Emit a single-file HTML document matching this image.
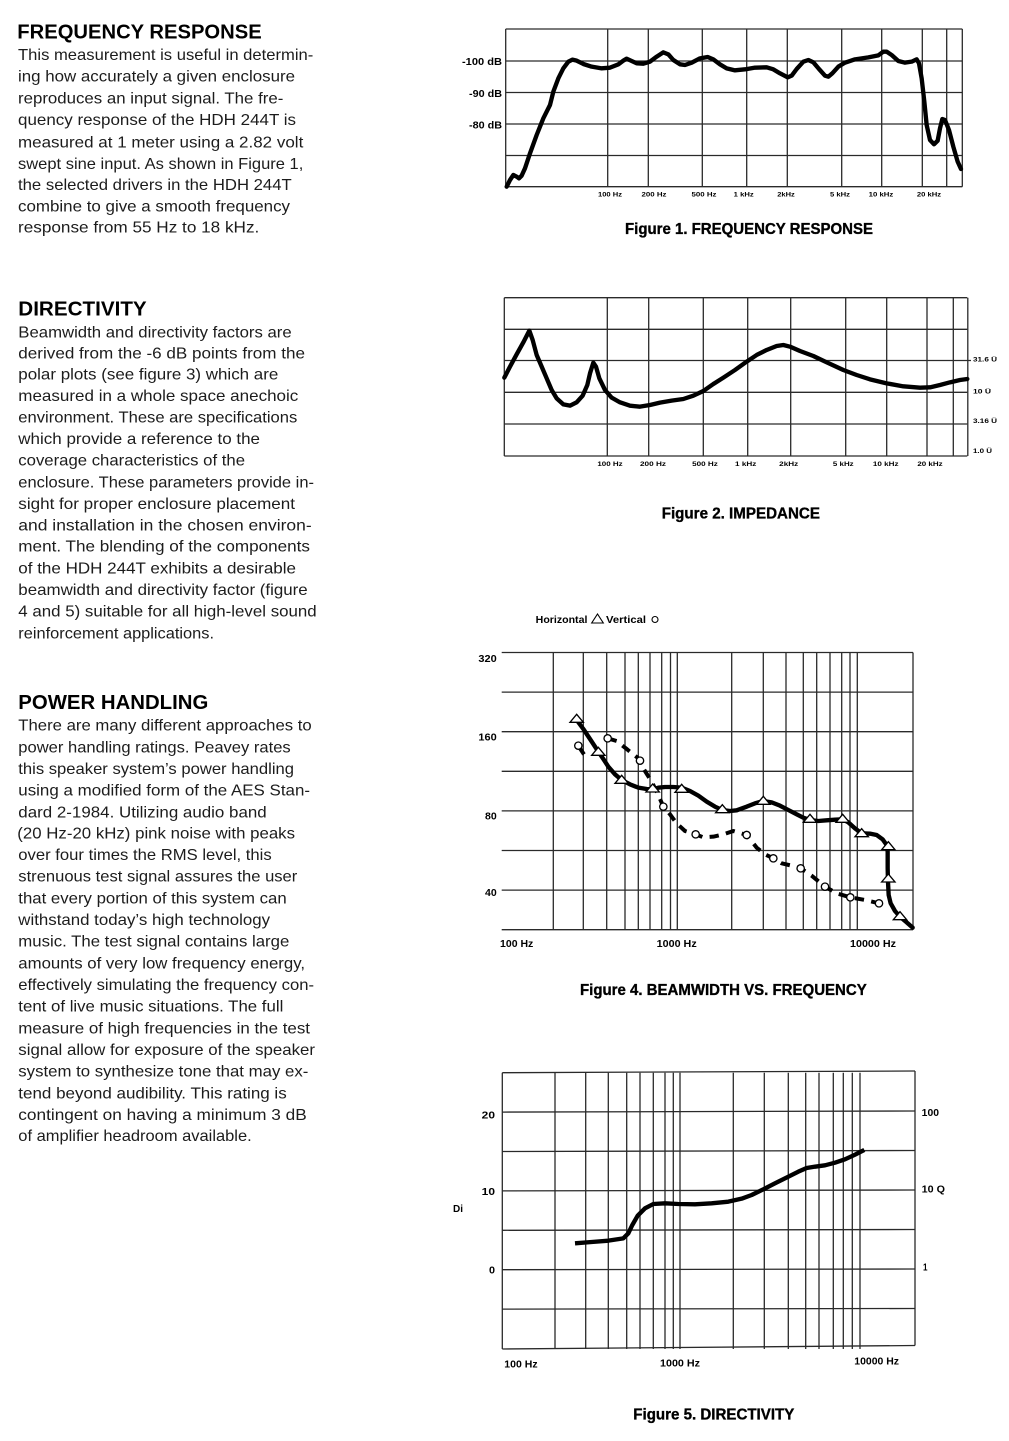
<!DOCTYPE html>
<html><head><meta charset="utf-8"><style>
html,body{margin:0;padding:0;background:#fff;}
svg{display:block;}
.b{font-family:"Liberation Sans",sans-serif;font-size:16px;fill:#1c1c1c;}
.h{font-family:"Liberation Sans",sans-serif;font-size:20.5px;font-weight:bold;fill:#000;}
.c{font-family:"Liberation Sans",sans-serif;font-size:16px;font-weight:bold;fill:#000;stroke:#000;stroke-width:0.35;}
.l{font-family:"Liberation Sans",sans-serif;font-weight:bold;fill:#000;}
.g line{stroke:#2a2a2a;stroke-width:1.3;}
</style></head><body>
<svg width="1009" height="1441" viewBox="0 0 1009 1441" xmlns="http://www.w3.org/2000/svg">
<rect width="1009" height="1441" fill="#fff"/>

<!-- LEFT TEXT -->
<text class="h" x="17.3" y="38.3" textLength="244.4" lengthAdjust="spacingAndGlyphs">FREQUENCY RESPONSE</text>
<g class="b">
<text x="18" y="60" textLength="295.3" lengthAdjust="spacingAndGlyphs">This measurement is useful in determin-</text>
<text x="18" y="81.7" textLength="277" lengthAdjust="spacingAndGlyphs">ing how accurately a given enclosure</text>
<text x="18" y="103.3" textLength="265.3" lengthAdjust="spacingAndGlyphs">reproduces an input signal. The fre-</text>
<text x="18" y="125" textLength="278" lengthAdjust="spacingAndGlyphs">quency response of the HDH 244T is</text>
<text x="18" y="147.3" textLength="285.3" lengthAdjust="spacingAndGlyphs">measured at 1 meter using a 2.82 volt</text>
<text x="18" y="169" textLength="285.3" lengthAdjust="spacingAndGlyphs">swept sine input. As shown in Figure 1,</text>
<text x="18" y="190" textLength="273.7" lengthAdjust="spacingAndGlyphs">the selected drivers in the HDH 244T</text>
<text x="18" y="211.7" textLength="272" lengthAdjust="spacingAndGlyphs">combine to give a smooth frequency</text>
<text x="18" y="232.7" textLength="241.3" lengthAdjust="spacingAndGlyphs">response from 55 Hz to 18 kHz.</text>
</g>

<text class="h" x="18.3" y="315.7" textLength="128.4" lengthAdjust="spacingAndGlyphs">DIRECTIVITY</text>
<g class="b">
<text x="18.3" y="337.3" textLength="273.4" lengthAdjust="spacingAndGlyphs">Beamwidth and directivity factors are</text>
<text x="18.3" y="358.3" textLength="286.7" lengthAdjust="spacingAndGlyphs">derived from the -6 dB points from the</text>
<text x="18.3" y="379.3" textLength="260" lengthAdjust="spacingAndGlyphs">polar plots (see figure 3) which are</text>
<text x="18.3" y="401" textLength="280" lengthAdjust="spacingAndGlyphs">measured in a whole space anechoic</text>
<text x="18.3" y="422.7" textLength="279" lengthAdjust="spacingAndGlyphs">environment. These are specifications</text>
<text x="18.3" y="444" textLength="241.7" lengthAdjust="spacingAndGlyphs">which provide a reference to the</text>
<text x="18.3" y="465.7" textLength="226.7" lengthAdjust="spacingAndGlyphs">coverage characteristics of the</text>
<text x="18.3" y="487.3" textLength="295.7" lengthAdjust="spacingAndGlyphs">enclosure. These parameters provide in-</text>
<text x="18.3" y="509" textLength="276.7" lengthAdjust="spacingAndGlyphs">sight for proper enclosure placement</text>
<text x="18.3" y="530.7" textLength="293.4" lengthAdjust="spacingAndGlyphs">and installation in the chosen environ-</text>
<text x="18.3" y="551.7" textLength="291.7" lengthAdjust="spacingAndGlyphs">ment. The blending of the components</text>
<text x="18.3" y="573.7" textLength="277.7" lengthAdjust="spacingAndGlyphs">of the HDH 244T exhibits a desirable</text>
<text x="18.3" y="595" textLength="289.4" lengthAdjust="spacingAndGlyphs">beamwidth and directivity factor (figure</text>
<text x="18.3" y="616.7" textLength="298.4" lengthAdjust="spacingAndGlyphs">4 and 5) suitable for all high-level sound</text>
<text x="18.3" y="638.3" textLength="195.7" lengthAdjust="spacingAndGlyphs">reinforcement applications.</text>
</g>

<text class="h" x="18.3" y="709" textLength="190" lengthAdjust="spacingAndGlyphs">POWER HANDLING</text>
<g class="b">
<text x="18.3" y="730.7" textLength="293.4" lengthAdjust="spacingAndGlyphs">There are many different approaches to</text>
<text x="18.3" y="752.3" textLength="272.4" lengthAdjust="spacingAndGlyphs">power handling ratings. Peavey rates</text>
<text x="18.3" y="774" textLength="275.7" lengthAdjust="spacingAndGlyphs">this speaker system’s power handling</text>
<text x="18.3" y="795.7" textLength="291.7" lengthAdjust="spacingAndGlyphs">using a modified form of the AES Stan-</text>
<text x="18.3" y="817.3" textLength="248.4" lengthAdjust="spacingAndGlyphs">dard 2-1984. Utilizing audio band</text>
<text x="17.3" y="838.3" textLength="277.7" lengthAdjust="spacingAndGlyphs">(20 Hz-20 kHz) pink noise with peaks</text>
<text x="18.3" y="860" textLength="253.4" lengthAdjust="spacingAndGlyphs">over four times the RMS level, this</text>
<text x="18.3" y="881.7" textLength="279" lengthAdjust="spacingAndGlyphs">strenuous test signal assures the user</text>
<text x="18.3" y="903.3" textLength="268.4" lengthAdjust="spacingAndGlyphs">that every portion of this system can</text>
<text x="18.3" y="925" textLength="251.7" lengthAdjust="spacingAndGlyphs">withstand today’s high technology</text>
<text x="18.3" y="946.7" textLength="271" lengthAdjust="spacingAndGlyphs">music. The test signal contains large</text>
<text x="18.3" y="968.3" textLength="286.7" lengthAdjust="spacingAndGlyphs">amounts of very low frequency energy,</text>
<text x="18.3" y="990" textLength="295.7" lengthAdjust="spacingAndGlyphs">effectively simulating the frequency con-</text>
<text x="18.3" y="1011.7" textLength="265" lengthAdjust="spacingAndGlyphs">tent of live music situations. The full</text>
<text x="18.3" y="1033.3" textLength="291.7" lengthAdjust="spacingAndGlyphs">measure of high frequencies in the test</text>
<text x="18.3" y="1055" textLength="296.7" lengthAdjust="spacingAndGlyphs">signal allow for exposure of the speaker</text>
<text x="18.3" y="1076.7" textLength="290" lengthAdjust="spacingAndGlyphs">system to synthesize tone that may ex-</text>
<text x="18.3" y="1098.3" textLength="268.4" lengthAdjust="spacingAndGlyphs">tend beyond audibility. This rating is</text>
<text x="18.3" y="1120" textLength="288.4" lengthAdjust="spacingAndGlyphs">contingent on having a minimum 3 dB</text>
<text x="18.3" y="1141" textLength="233.4" lengthAdjust="spacingAndGlyphs">of amplifier headroom available.</text>
</g>

<!-- FIGURE 1 -->
<g class="g">
<line x1="505.7" y1="29" x2="962.3" y2="29"/>
<line x1="505.7" y1="61" x2="962.3" y2="61"/>
<line x1="505.7" y1="92.5" x2="962.3" y2="92.5"/>
<line x1="505.7" y1="124" x2="962.3" y2="124"/>
<line x1="505.7" y1="155.5" x2="962.3" y2="155.5"/>
<line x1="505.7" y1="186.7" x2="962.3" y2="186.7"/>
<line x1="505.7" y1="29" x2="505.7" y2="186.7"/>
<line x1="607.7" y1="29" x2="607.7" y2="186.7"/>
<line x1="648.3" y1="29" x2="648.3" y2="186.7"/>
<line x1="702.3" y1="29" x2="702.3" y2="186.7"/>
<line x1="746.7" y1="29" x2="746.7" y2="186.7"/>
<line x1="787.3" y1="29" x2="787.3" y2="186.7"/>
<line x1="841.7" y1="29" x2="841.7" y2="186.7"/>
<line x1="881.7" y1="29" x2="881.7" y2="186.7"/>
<line x1="922.3" y1="29" x2="922.3" y2="186.7"/>
<line x1="946.7" y1="29" x2="946.7" y2="186.7"/>
<line x1="962.3" y1="29" x2="962.3" y2="186.7"/>
</g>
<g transform="translate(455 15) scale(0.33333)">
<path fill="none" stroke="#000" stroke-width="13" stroke-linejoin="round" stroke-linecap="round" d="M155,515 L165,495 L175,480 L185,485 L192,490 L200,482 L210,460 L225,415 L245,360 L265,310 L285,270 L295,230 L310,190 L325,160 L340,140 L352,134 L365,137 L385,147 L410,155 L440,160 L465,158 L490,148 L505,137 L515,131 L528,137 L545,145 L565,146 L585,140 L605,125 L625,112 L640,118 L655,135 L675,148 L690,150 L710,143 L735,130 L758,126 L775,133 L795,148 L815,160 L840,166 L870,163 L900,158 L935,157 L955,163 L975,175 L998,187 L1010,182 L1025,162 L1045,140 L1060,135 L1075,142 L1092,162 L1110,182 L1120,185 L1132,175 L1150,155 L1170,143 L1200,133 L1240,127 L1270,121 L1285,110 L1295,110 L1310,120 L1330,138 L1350,143 L1370,140 L1385,133 L1392,145 L1400,190 L1408,260 L1415,330 L1425,375 L1437,388 L1448,377 L1455,340 L1462,312 L1470,315 L1482,345 L1495,395 L1508,440 L1518,462"/>
</g>
<g class="l" font-size="10" text-anchor="end">
<text x="502" y="65" textLength="40" lengthAdjust="spacingAndGlyphs">-100 dB</text>
<text x="502" y="96.8" textLength="33" lengthAdjust="spacingAndGlyphs">-90 dB</text>
<text x="502" y="128.5" textLength="33" lengthAdjust="spacingAndGlyphs">-80 dB</text>
</g>
<g class="l" font-size="6.5" text-anchor="middle">
<text x="610" y="196.5" textLength="24" lengthAdjust="spacingAndGlyphs">100 Hz</text>
<text x="654" y="196.5" textLength="25" lengthAdjust="spacingAndGlyphs">200 Hz</text>
<text x="704" y="196.5" textLength="25" lengthAdjust="spacingAndGlyphs">500 Hz</text>
<text x="743.7" y="196.5" textLength="20" lengthAdjust="spacingAndGlyphs">1 kHz</text>
<text x="786" y="196.5" textLength="17.5" lengthAdjust="spacingAndGlyphs">2kHz</text>
<text x="840" y="196.5" textLength="20" lengthAdjust="spacingAndGlyphs">5 kHz</text>
<text x="881" y="196.5" textLength="24.7" lengthAdjust="spacingAndGlyphs">10 kHz</text>
<text x="929" y="196.5" textLength="24.3" lengthAdjust="spacingAndGlyphs">20 kHz</text>
</g>
<text class="c" x="625" y="234" textLength="248" lengthAdjust="spacingAndGlyphs">Figure 1. FREQUENCY RESPONSE</text>

<!-- FIGURE 2 -->
<g class="g">
<line x1="504.3" y1="297.7" x2="967.3" y2="297.7"/>
<line x1="504.3" y1="329.3" x2="967.3" y2="329.3"/>
<line x1="504.3" y1="360.5" x2="971" y2="360.5"/>
<line x1="504.3" y1="392.3" x2="967.3" y2="392.3"/>
<line x1="504.3" y1="424" x2="967.3" y2="424"/>
<line x1="504.3" y1="456" x2="967.3" y2="456"/>
<line x1="504.3" y1="297.7" x2="504.3" y2="456"/>
<line x1="607.3" y1="297.7" x2="607.3" y2="456"/>
<line x1="648.7" y1="297.7" x2="648.7" y2="456"/>
<line x1="703.3" y1="297.7" x2="703.3" y2="456"/>
<line x1="747.7" y1="297.7" x2="747.7" y2="456"/>
<line x1="790.7" y1="297.7" x2="790.7" y2="456"/>
<line x1="845.7" y1="297.7" x2="845.7" y2="456"/>
<line x1="886.7" y1="297.7" x2="886.7" y2="456"/>
<line x1="927" y1="297.7" x2="927" y2="456"/>
<line x1="953.3" y1="297.7" x2="953.3" y2="456"/>
<line x1="967.8" y1="297.7" x2="967.8" y2="456"/>
</g>
<g transform="translate(490 285) scale(0.33333)">
<path fill="none" stroke="#000" stroke-width="13" stroke-linejoin="round" stroke-linecap="round" d="M43,278 L60,245 L80,208 L100,172 L118,137 L128,165 L140,210 L155,245 L170,280 L185,315 L200,340 L220,358 L240,362 L260,352 L278,332 L292,300 L300,265 L310,233 L318,245 L328,280 L345,315 L365,338 L390,352 L420,362 L450,365 L480,360 L510,353 L545,347 L580,342 L610,332 L640,318 L670,297 L700,278 L735,255 L770,230 L800,210 L830,195 L860,183 L880,180 L900,185 L930,198 L970,213 L1010,232 L1060,255 L1100,270 L1140,283 L1190,295 L1240,304 L1290,308 L1320,307 L1350,300 L1380,292 L1410,285 L1432,282"/>
</g>
<g class="l" font-size="6.5">
<text x="973" y="361.7" textLength="24" lengthAdjust="spacingAndGlyphs">31.6 Ü</text>
<text x="973" y="393.5" textLength="18" lengthAdjust="spacingAndGlyphs">10 Ü</text>
<text x="973" y="423.2" textLength="24" lengthAdjust="spacingAndGlyphs">3.16 Ü</text>
<text x="973" y="453.2" textLength="19" lengthAdjust="spacingAndGlyphs">1.0 Ü</text>
</g>
<g class="l" font-size="6.5" text-anchor="middle">
<text x="610" y="466" textLength="25.3" lengthAdjust="spacingAndGlyphs">100 Hz</text>
<text x="653" y="466" textLength="26" lengthAdjust="spacingAndGlyphs">200 Hz</text>
<text x="705" y="466" textLength="25.7" lengthAdjust="spacingAndGlyphs">500 Hz</text>
<text x="745.7" y="466" textLength="21.3" lengthAdjust="spacingAndGlyphs">1 kHz</text>
<text x="788.7" y="466" textLength="19" lengthAdjust="spacingAndGlyphs">2kHz</text>
<text x="843.3" y="466" textLength="20.7" lengthAdjust="spacingAndGlyphs">5 kHz</text>
<text x="885.7" y="466" textLength="25.7" lengthAdjust="spacingAndGlyphs">10 kHz</text>
<text x="930" y="466" textLength="25.3" lengthAdjust="spacingAndGlyphs">20 kHz</text>
</g>
<text class="c" x="661.7" y="518.3" textLength="158.3" lengthAdjust="spacingAndGlyphs">Figure 2. IMPEDANCE</text>

<!-- FIGURE 4 -->
<g class="l" font-size="10">
<text x="535.7" y="623" textLength="51.7" lengthAdjust="spacingAndGlyphs">Horizontal</text>
<text x="606" y="623" textLength="40" lengthAdjust="spacingAndGlyphs">Vertical</text>
</g>
<polygon points="591.7,623 603.3,623 597.5,614" fill="#fff" stroke="#000" stroke-width="1.1"/>
<circle cx="655" cy="619.5" r="3" fill="#fff" stroke="#000" stroke-width="1.1"/>
<g class="g">
<line x1="501.7" y1="652.5" x2="913" y2="652.5"/>
<line x1="501.7" y1="692.1" x2="913" y2="692.1"/>
<line x1="501.7" y1="731.7" x2="913" y2="731.7"/>
<line x1="501.7" y1="771.3" x2="913" y2="771.3"/>
<line x1="501.7" y1="810.9" x2="913" y2="810.9"/>
<line x1="501.7" y1="850.5" x2="913" y2="850.5"/>
<line x1="501.7" y1="890.1" x2="913" y2="890.1"/>
<line x1="501.7" y1="929.7" x2="913" y2="929.7"/>
<line x1="553.3" y1="652.5" x2="553.3" y2="929.7"/>
<line x1="583.3" y1="652.5" x2="583.3" y2="929.7"/>
<line x1="606.7" y1="652.5" x2="606.7" y2="929.7"/>
<line x1="625" y1="652.5" x2="625" y2="929.7"/>
<line x1="638.3" y1="652.5" x2="638.3" y2="929.7"/>
<line x1="650" y1="652.5" x2="650" y2="929.7"/>
<line x1="661.7" y1="652.5" x2="661.7" y2="929.7"/>
<line x1="670.5" y1="652.5" x2="670.5" y2="929.7"/>
<line x1="677.3" y1="652.5" x2="677.3" y2="929.7"/>
<line x1="731.7" y1="652.5" x2="731.7" y2="929.7"/>
<line x1="763.3" y1="652.5" x2="763.3" y2="929.7"/>
<line x1="786" y1="652.5" x2="786" y2="929.7"/>
<line x1="803.3" y1="652.5" x2="803.3" y2="929.7"/>
<line x1="816.7" y1="652.5" x2="816.7" y2="929.7"/>
<line x1="830" y1="652.5" x2="830" y2="929.7"/>
<line x1="841.7" y1="652.5" x2="841.7" y2="929.7"/>
<line x1="850" y1="652.5" x2="850" y2="929.7"/>
<line x1="857.3" y1="652.5" x2="857.3" y2="929.7"/>
<line x1="913" y1="652.5" x2="913" y2="929.7"/>
</g>
<g transform="translate(470 605) scale(0.33333)">
<path fill="none" stroke="#000" stroke-width="12" stroke-dasharray="28 22" stroke-linejoin="round" d="M330,430 L342,448 M413,400 L440,408 L470,432 L505,460 L520,490 L545,530 L565,570 L580,605 L600,628 L620,655 L645,678 L677,688 L700,697 L730,695 L760,688 L790,678 L830,690 L860,728 L885,748 L910,760 L935,775 L965,782 L992,790 L1025,812 L1065,845 L1100,865 L1141,877 L1185,885 L1227,895"/>
<path fill="none" stroke="#000" stroke-width="13" stroke-linejoin="round" stroke-linecap="round" d="M320,345 L340,372 L362,405 L385,440 L400,462 L415,485 L435,508 L455,525 L480,538 L505,548 L530,552 L548,553 L565,548 L585,546 L610,546 L635,548 L660,558 L685,572 L710,590 L735,605 L757,615 L780,618 L800,616 L830,605 L855,595 L880,588 L905,592 L930,602 L955,615 L980,628 L1000,638 L1020,645 L1045,648 L1070,646 L1095,644 L1118,643 L1135,652 L1155,670 L1175,685 L1200,686 L1220,690 L1238,703 L1250,720 L1253,740 L1253,790 L1254,830 L1256,870 L1262,895 L1275,918 L1290,935 L1310,952 L1328,968"/>
<g fill="#fff" stroke="#000" stroke-width="4">
<circle cx="325" cy="422" r="11"/>
<circle cx="413" cy="400" r="11"/>
<circle cx="510" cy="467" r="11"/>
<circle cx="580" cy="605" r="11"/>
<circle cx="677" cy="688" r="11"/>
<circle cx="830" cy="690" r="11"/>
<circle cx="910" cy="760" r="11"/>
<circle cx="992" cy="790" r="11"/>
<circle cx="1065" cy="845" r="11"/>
<circle cx="1141" cy="877" r="11"/>
<circle cx="1227" cy="895" r="11"/>
</g>
<g fill="#fff" stroke="#000" stroke-width="4" stroke-linejoin="miter">
<polygon points="300,352 340,352 320,328"/>
<polygon points="365,451 405,451 385,427"/>
<polygon points="435,535 475,535 455,511"/>
<polygon points="528,561 568,561 548,537"/>
<polygon points="615,562 655,562 635,538"/>
<polygon points="737,623 777,623 757,599"/>
<polygon points="860,598 900,598 880,574"/>
<polygon points="1000,652 1040,652 1020,628"/>
<polygon points="1098,652 1138,652 1118,628"/>
<polygon points="1155,695 1195,695 1175,671"/>
<polygon points="1235,734 1275,734 1255,710"/>
<polygon points="1235,831 1275,831 1255,807"/>
<polygon points="1270,944 1310,944 1290,920"/>
</g>
</g>
<g class="l" font-size="10" text-anchor="end">
<text x="496.7" y="662" textLength="18.3" lengthAdjust="spacingAndGlyphs">320</text>
<text x="496.7" y="740.3" textLength="18.3" lengthAdjust="spacingAndGlyphs">160</text>
<text x="496.7" y="819.3" textLength="11.7" lengthAdjust="spacingAndGlyphs">80</text>
<text x="496.7" y="896" textLength="11.7" lengthAdjust="spacingAndGlyphs">40</text>
</g>
<g class="l" font-size="10">
<text x="500" y="947" textLength="33.3" lengthAdjust="spacingAndGlyphs">100 Hz</text>
<text x="656.7" y="947" textLength="40" lengthAdjust="spacingAndGlyphs">1000 Hz</text>
<text x="850" y="947" textLength="46" lengthAdjust="spacingAndGlyphs">10000 Hz</text>
</g>
<text class="c" x="580" y="995" textLength="286.7" lengthAdjust="spacingAndGlyphs">Figure 4. BEAMWIDTH VS. FREQUENCY</text>

<!-- FIGURE 5 -->
<g class="g">
<line x1="502.3" y1="1072.7" x2="915" y2="1071"/>
<line x1="502.3" y1="1112.1" x2="915" y2="1111"/>
<line x1="502.3" y1="1151.5" x2="915" y2="1150.5"/>
<line x1="502.3" y1="1190.9" x2="915" y2="1190"/>
<line x1="502.3" y1="1230.3" x2="915" y2="1229.5"/>
<line x1="502.3" y1="1269.7" x2="915" y2="1269"/>
<line x1="502.3" y1="1309.1" x2="915" y2="1308.5"/>
<line x1="502.3" y1="1349" x2="915" y2="1345.5"/>
<line x1="502.3" y1="1072.7" x2="502.3" y2="1349"/>
<line x1="555" y1="1072.7" x2="555" y2="1349"/>
<line x1="585.7" y1="1072.7" x2="585.7" y2="1349"/>
<line x1="608.3" y1="1072.7" x2="608.3" y2="1349"/>
<line x1="626.7" y1="1072.7" x2="626.7" y2="1349"/>
<line x1="640" y1="1072.7" x2="640" y2="1349"/>
<line x1="653.3" y1="1072.7" x2="653.3" y2="1349"/>
<line x1="665" y1="1072.7" x2="665" y2="1349"/>
<line x1="673.3" y1="1072.7" x2="673.3" y2="1349"/>
<line x1="680" y1="1072.7" x2="680" y2="1349"/>
<line x1="733.3" y1="1072.7" x2="733.3" y2="1349"/>
<line x1="764.3" y1="1072.7" x2="764.3" y2="1349"/>
<line x1="788.3" y1="1072.7" x2="788.3" y2="1349"/>
<line x1="805.7" y1="1072.7" x2="805.7" y2="1349"/>
<line x1="819" y1="1072.7" x2="819" y2="1349"/>
<line x1="833.3" y1="1072.7" x2="833.3" y2="1349"/>
<line x1="843.3" y1="1072.7" x2="843.3" y2="1349"/>
<line x1="852.3" y1="1072.7" x2="852.3" y2="1349"/>
<line x1="860" y1="1072.7" x2="860" y2="1349"/>
<line x1="915" y1="1071" x2="915" y2="1345.5"/>
</g>
<g transform="translate(445 1060) scale(0.33333)">
<path fill="none" stroke="#000" stroke-width="13" stroke-linejoin="round" stroke-linecap="butt" d="M390,550 L440,546 L490,542 L535,535 L550,520 L562,495 L578,467 L600,445 L625,432 L660,430 L700,432 L750,433 L800,430 L850,425 L890,416 L920,405 L955,388 L990,370 L1030,350 L1060,335 L1085,324 L1110,320 L1140,316 L1170,308 L1200,298 L1230,284 L1258,270"/>
</g>
<g class="l" font-size="10">
<text x="495" y="1118.5" text-anchor="end" textLength="13.3" lengthAdjust="spacingAndGlyphs">20</text>
<text x="495" y="1195.2" text-anchor="end" textLength="13.3" lengthAdjust="spacingAndGlyphs">10</text>
<text x="495" y="1273.5" text-anchor="end" textLength="6" lengthAdjust="spacingAndGlyphs">0</text>
<text x="453" y="1212" textLength="10" lengthAdjust="spacingAndGlyphs">Di</text>
<text x="921.7" y="1115.8" textLength="17.3" lengthAdjust="spacingAndGlyphs">100</text>
<text x="921.7" y="1192.5" textLength="23.3" lengthAdjust="spacingAndGlyphs">10 Q</text>
<text x="923" y="1270.3" textLength="4.5" lengthAdjust="spacingAndGlyphs">1</text>
<text x="504.3" y="1367.5" textLength="33.3" lengthAdjust="spacingAndGlyphs">100 Hz</text>
<text x="660" y="1366.3" textLength="40" lengthAdjust="spacingAndGlyphs">1000 Hz</text>
<text x="854.3" y="1364.7" textLength="44.7" lengthAdjust="spacingAndGlyphs">10000 Hz</text>
</g>
<text class="c" x="633.3" y="1419.3" textLength="161" lengthAdjust="spacingAndGlyphs">Figure 5. DIRECTIVITY</text>
</svg>
</body></html>
